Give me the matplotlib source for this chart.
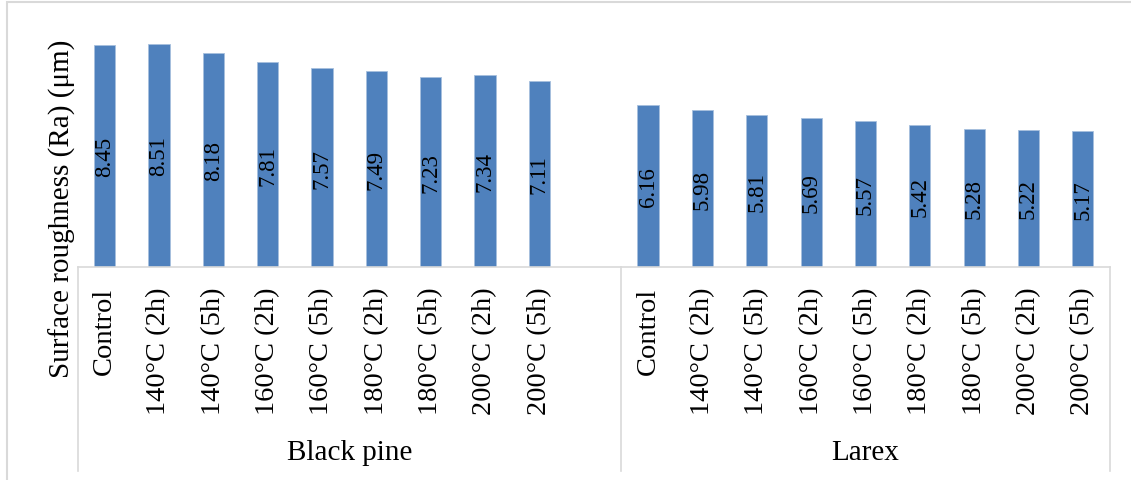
import matplotlib.pyplot as plt
from matplotlib.patches import Rectangle

treatments = ["Control", "140°C (2h)", "140°C (5h)", "160°C (2h)", "160°C (5h)",
              "180°C (2h)", "180°C (5h)", "200°C (2h)", "200°C (5h)"]
black_pine = [8.45, 8.51, 8.18, 7.81, 7.57, 7.49, 7.23, 7.34, 7.11]
larex = [6.16, 5.98, 5.81, 5.69, 5.57, 5.42, 5.28, 5.22, 5.17]
groups = ["Black pine", "Larex"]

plt.rcParams['font.family'] = ['Liberation Serif', 'DejaVu Serif']

W, H = 1131, 481
fig = plt.figure(figsize=(W / 100, H / 100), dpi=100)
ax = fig.add_axes([77.5 / W, 1 - 268 / H, (1110 - 77.5) / W, 236 / H])

# black pine has an empty slot at the end, like the excel chart
x_bp = list(range(len(black_pine)))
x_lx = [len(black_pine) + 1 + i for i in range(len(larex))]

bars1 = ax.bar(x_bp, black_pine, width=0.39, color="#4F81BD", edgecolor="#A7C0DE", linewidth=0.6)
bars2 = ax.bar(x_lx, larex, width=0.39, color="#4F81BD", edgecolor="#A7C0DE", linewidth=0.6)
for b in (bars1, bars2):
    ax.bar_label(b, labels=[f"{v:.2f}" for v in b.datavalues], label_type="center",
                 rotation=90, fontsize=16.5, color="black")

ax.set_xlim(-0.5, len(black_pine) + len(larex) + 0.5)
ax.set_ylim(0, 9)
ax.set_yticks([])
ax.set_xticks(x_bp + x_lx)
ax.set_xticklabels(treatments + treatments, rotation=90, fontsize=20.5)
ax.tick_params(axis="x", length=0, pad=14)

for s in ["top", "left", "right"]:
    ax.spines[s].set_visible(False)
ax.spines["bottom"].set_color("#d9d9d9")
ax.spines["bottom"].set_linewidth(1.2)

# group separators under the axis
tr = ax.get_xaxis_transform()
bottom = (268 - 472) / 236
edges = [-0.5, len(black_pine) + 0.5, len(black_pine) + len(larex) + 0.5]
for xs in edges:
    ax.plot([xs, xs], [0, bottom], transform=tr, color="#d9d9d9", lw=1.2, clip_on=False)

gy = (268 - 453) / 236
for i, g in enumerate(groups):
    ax.text((edges[i] + edges[i + 1]) / 2, gy, g, transform=tr,
            ha="center", va="center", fontsize=21)

fig.text(62 / W, 1 - 209 / H, "Surface roughness (Ra) (μm)", rotation=90,
         ha="center", va="center", fontsize=21)

fig.patches.append(Rectangle((7 / W, -0.02), 1.05, 1 - 3 / H + 0.02, transform=fig.transFigure,
                             fill=False, edgecolor="#d9d9d9", lw=1.5))

fig.savefig("out.png", dpi=100)
